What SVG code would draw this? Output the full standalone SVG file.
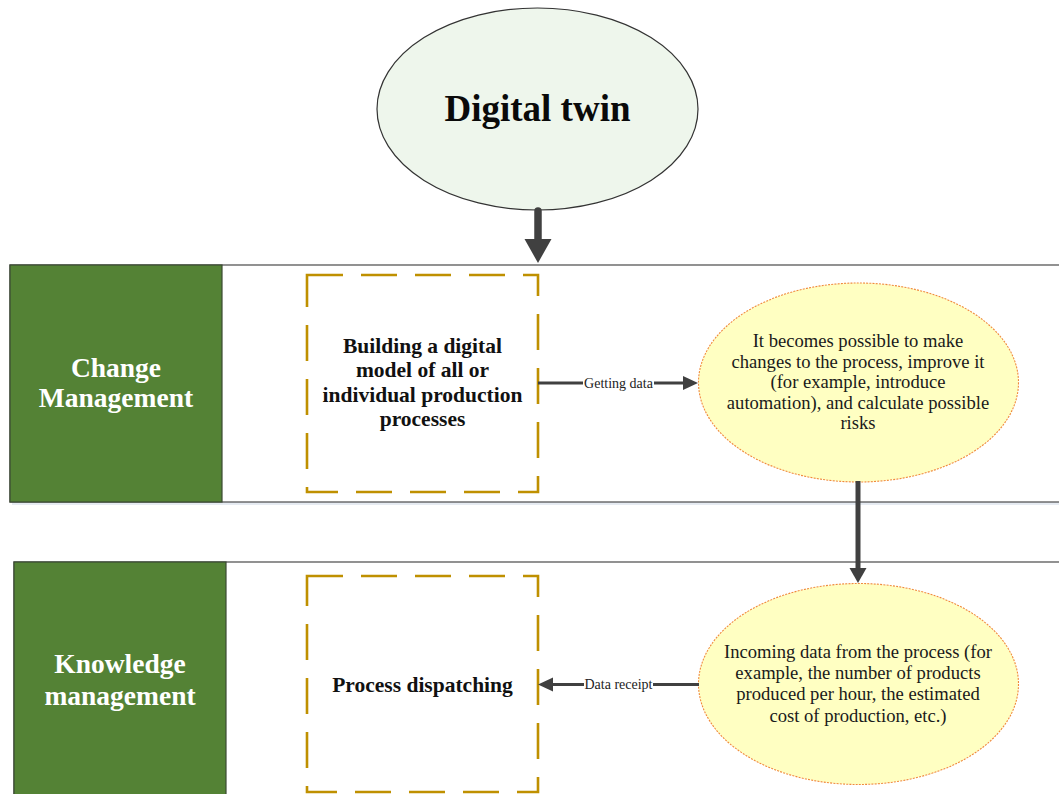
<svg xmlns="http://www.w3.org/2000/svg" width="1059" height="794" viewBox="0 0 1059 794">
  <style>
    .lane { fill: #ffffff; stroke: #4a4a4a; stroke-width: 1.2; }
    .shadow { fill: #e6ebf2; }
    .header { fill: #548235; stroke: #3b4a33; stroke-width: 1.2; }
    .header-text { font-family: "Liberation Serif", "Times New Roman", serif; font-weight: bold; font-size: 27.5px; fill: #ffffff; text-anchor: middle; }
    .task { fill: #ffffff; stroke: #bf9000; stroke-width: 2.6; stroke-dasharray: 36 18; }
    .task-text { font-family: "Liberation Serif", "Times New Roman", serif; font-weight: bold; font-size: 21.5px; fill: #111111; text-anchor: middle; }
    .idea { fill: #ffffc2; stroke: #f08a3c; stroke-width: 1.1; stroke-dasharray: 2 1.2; }
    .idea-text { font-family: "Liberation Serif", "Times New Roman", serif; font-size: 18.6px; fill: #1a1a1a; text-anchor: middle; }
    .twin { fill: #eef6ec; stroke: #333333; stroke-width: 1.2; }
    .twin-text { font-family: "Liberation Serif", "Times New Roman", serif; font-weight: bold; font-size: 37px; fill: #0a0a0a; text-anchor: middle; }
    .flow { stroke: #404040; fill: none; }
    .flow-label { font-family: "Liberation Serif", "Times New Roman", serif; font-size: 14px; fill: #222222; text-anchor: middle; }
    .label-bg { fill: #ffffff; }
  </style>
  <defs>
    <marker id="head-big" markerUnits="userSpaceOnUse" markerWidth="28" markerHeight="28" refX="6" refY="13.5" orient="auto">
      <path d="M0,0 L24,13.5 L0,27 Z" fill="#404040"/>
    </marker>
    <marker id="head-mid" markerUnits="userSpaceOnUse" markerWidth="17" markerHeight="18" refX="4" refY="8.5" orient="auto">
      <path d="M0,0 L15,8.5 L0,17 Z" fill="#404040"/>
    </marker>
    <marker id="head-small" markerUnits="userSpaceOnUse" markerWidth="16" markerHeight="15" refX="3" refY="7" orient="auto">
      <path d="M0,0 L15,7 L0,14 Z" fill="#404040"/>
    </marker>
  </defs>

  <rect width="1059" height="794" fill="#ffffff"/>

  <!-- Swimlane: Change Management -->
  <g id="lane-change">
    <rect class="shadow" x="12" y="268" width="1060" height="237"/>
    <rect class="lane" x="10" y="265" width="1060" height="237"/>
    <rect class="header" x="10" y="265" width="212" height="237"/>
    <text class="header-text" x="116" y="377">Change</text>
    <text class="header-text" x="116" y="407">Management</text>
  </g>

  <!-- Swimlane: Knowledge management -->
  <g id="lane-knowledge">
    <rect class="shadow" x="16" y="565" width="1060" height="240"/>
    <rect class="lane" x="14" y="562" width="1060" height="240"/>
    <rect class="header" x="14" y="562" width="212" height="240"/>
    <text class="header-text" x="120" y="673">Knowledge</text>
    <text class="header-text" x="120" y="705">management</text>
  </g>

  <!-- Top node -->
  <g id="digital-twin">
    <ellipse class="twin" cx="537.5" cy="109" rx="160.5" ry="101"/>
    <text class="twin-text" x="537.5" y="121">Digital twin</text>
  </g>

  <g id="building-model">
    <rect class="task" x="307" y="275" width="231" height="217"/>
    <text class="task-text" x="422.5" y="353">Building a digital</text>
    <text class="task-text" x="422.5" y="377">model of all or</text>
    <text class="task-text" x="422.5" y="402">individual production</text>
    <text class="task-text" x="422.5" y="426">processes</text>
  </g>

  <g id="process-dispatching">
    <rect class="task" x="307" y="576" width="231" height="216"/>
    <text class="task-text" x="422.5" y="692">Process dispatching</text>
  </g>

  <g id="possible-changes">
    <ellipse class="idea" cx="858.5" cy="382.5" rx="160" ry="99.5"/>
    <text class="idea-text" x="858" y="347">It becomes possible to make</text>
    <text class="idea-text" x="858" y="367.5">changes to the process, improve it</text>
    <text class="idea-text" x="858" y="388">(for example, introduce</text>
    <text class="idea-text" x="858" y="408.5">automation), and calculate possible</text>
    <text class="idea-text" x="858" y="429">risks</text>
  </g>

  <g id="incoming-data">
    <ellipse class="idea" cx="858.5" cy="684" rx="160" ry="100.5"/>
    <text class="idea-text" x="858" y="658">Incoming data from the process (for</text>
    <text class="idea-text" x="858" y="679">example, the number of products</text>
    <text class="idea-text" x="858" y="700">produced per hour, the estimated</text>
    <text class="idea-text" x="858" y="721.5">cost of production, etc.)</text>
  </g>

  <!-- Connectors -->
  <g id="connectors">
    <line class="flow" x1="538" y1="211" x2="538" y2="245" stroke-width="7.5" stroke-linecap="round" marker-end="url(#head-big)"/>
    <line class="flow" x1="858" y1="481" x2="858" y2="572" stroke-width="5" marker-end="url(#head-mid)"/>
    <line class="flow" x1="538" y1="383" x2="686" y2="383" stroke-width="3" marker-end="url(#head-small)"/>
    <rect class="label-bg" x="583" y="375" width="71" height="15"/>
    <text class="flow-label" x="618.5" y="388">Getting data</text>
    <line class="flow" x1="699" y1="684.5" x2="550" y2="684.5" stroke-width="3" marker-end="url(#head-small)"/>
    <rect class="label-bg" x="584" y="677" width="69" height="15"/>
    <text class="flow-label" x="618.5" y="689">Data receipt</text>
  </g>
</svg>
